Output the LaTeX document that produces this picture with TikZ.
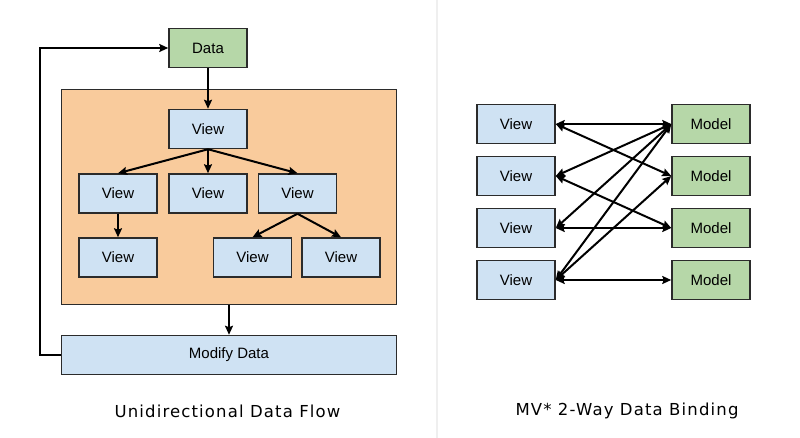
\documentclass[tikz,border=0pt]{standalone}
\usepackage{fontspec}
\setmainfont{Liberation Sans}
\newfontfamily\titlefont[LetterSpace=7]{DejaVu Sans}
\usetikzlibrary{arrows.meta}
\definecolor{viewblue}{HTML}{CFE2F3}
\definecolor{modelgreen}{HTML}{B6D7A8}
\definecolor{areaorange}{HTML}{F9CB9C}
\definecolor{edgegray}{HTML}{2B2B2B}
\definecolor{divgray}{HTML}{EFEFEF}
\tikzset{
	box/.style={draw=edgegray,line width=1.5pt,minimum width=78pt,minimum height=39pt,inner sep=0pt,font=\fontsize{15}{17}\selectfont},
	viewbox/.style={box,fill=viewblue},
	modelbox/.style={box,fill=modelgreen},
	tip/.tip={Stealth[length=9pt,width=8pt,inset=1.5pt]},
	flow/.style={-tip,line width=2pt,draw=black},
	bind/.style={tip-tip,line width=2pt,draw=black},
	title/.style={font=\titlefont\fontsize{16.5}{18}\selectfont}
}
\begin{document}
\begin{tikzpicture}[x=1pt,y=-1pt]
	\useasboundingbox (0,0) rectangle (800,438);
	\draw[divgray,line width=1.5pt] (437,0)--(437,438);
	% unidirectional data flow
	\node[box,fill=areaorange,minimum width=335pt,minimum height=215pt](area) at (229,197) {};
	\node[modelbox](Data) at (208,48) {Data};
	\node[viewbox](Vtop) at (208,129) {View};
	\node[viewbox](Va) at (118,193.5) {View};
	\node[viewbox](Vb) at (208,193.5) {View};
	\node[viewbox](Vc) at (297.5,193.5) {View};
	\node[viewbox](Vaa) at (118,257.5) {View};
	\node[viewbox](Vca) at (252.5,257.5) {View};
	\node[viewbox](Vcb) at (341,257.5) {View};
	\node[viewbox,minimum width=335pt](Modify) at (229,355) {Modify Data};
	\draw[flow] (Data)--(Vtop);
	\draw[flow] (Vtop.south)--(Va.north);
	\draw[flow] (Vtop.south)--(Vb.north);
	\draw[flow] (Vtop.south)--(Vc.north);
	\draw[flow] (Va)--(Vaa);
	\draw[flow] (Vc.south)--(Vca.north);
	\draw[flow] (Vc.south)--(Vcb.north);
	\draw[flow] (area)--(Modify);
	\draw[flow] (Modify.west)--++(-21,0)|-(Data.west);
	\node[title](uni) at (227.5,411) {Unidirectional Data Flow};
	% two-way binding
	\foreach \i/\y in {1/124,2/176,3/228,4/280}{
		\node[viewbox](V\i) at (516,\y) {View};
		\node[modelbox](M\i) at (711,\y) {Model};
	}
	\foreach \v/\m in {1/1,1/2,2/1,2/3,3/1,3/3,4/1,4/2,4/4}
		\draw[bind] (V\v.east)--(M\m.west);
	\node[title](mvs) at (627,411) {MV* 2-Way Data Binding};
\end{tikzpicture}
\end{document}
